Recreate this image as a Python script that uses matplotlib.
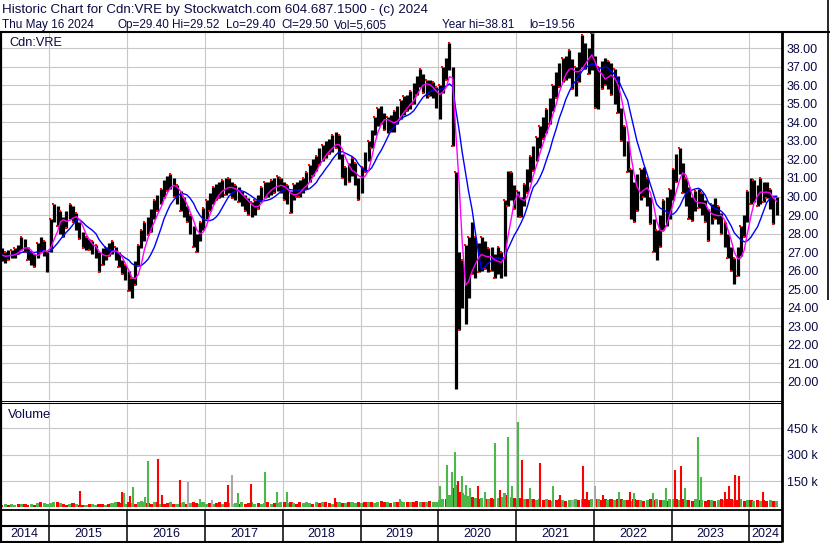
import numpy as np
import pandas as pd
import matplotlib
matplotlib.use("Agg")
import matplotlib.pyplot as plt
import matplotlib.dates as mdates

plt.rcParams['font.family'] = ['Liberation Sans', 'DejaVu Sans']

# --- half-month price bars (low / high) ---
lo_2014 = [26.5, 26.4, 26.6, 26.7, 26.7, 26.9, 27.1, 27.0, 26.6, 26.3, 26.2, 26.7, 27.0, 26.8, 25.9]
hi_2014 = [27.2, 27.0, 27.1, 27.1, 27.2, 27.4, 27.8, 27.7, 27.3, 27.0, 26.9, 27.5, 27.8, 27.6, 27.0]
lo_2015 = [27.0, 28.6, 28.4, 28.0, 27.8, 28.3, 28.8, 28.6, 28.2, 27.7, 27.2, 27.1,
           27.1, 26.9, 26.7, 25.9, 26.3, 26.6, 26.8, 26.9, 26.6, 26.2, 25.8, 25.5]
hi_2015 = [28.8, 29.6, 29.5, 29.2, 28.9, 29.2, 29.6, 29.5, 29.1, 28.6, 28.1, 27.8,
           27.7, 27.6, 27.4, 27.0, 27.2, 27.3, 27.5, 27.6, 27.3, 27.0, 26.6, 26.3]
lo_2016 = [24.9, 24.5, 25.2, 26.3, 27.2, 27.6, 27.9, 28.1, 28.8, 29.2, 29.6, 29.9,
           30.3, 30.4, 30.0, 29.6, 29.2, 28.9, 28.6, 28.0, 27.3, 27.0, 27.6, 28.2]
hi_2016 = [26.0, 25.6, 26.5, 27.4, 28.2, 28.6, 28.9, 29.3, 29.8, 30.1, 30.4, 30.9,
           31.1, 31.2, 31.0, 30.6, 30.3, 30.0, 29.5, 29.0, 28.4, 28.0, 28.6, 29.4]
lo_2017 = [28.8, 29.2, 29.6, 29.8, 29.9, 30.0, 30.1, 30.2, 29.9, 29.8, 29.7, 29.5,
           29.2, 29.0, 28.9, 29.0, 29.3, 29.7, 29.9, 30.0, 30.1, 30.2, 30.3, 30.2]
hi_2017 = [29.8, 30.2, 30.5, 30.7, 30.8, 30.9, 31.0, 31.0, 30.8, 30.6, 30.5, 30.3,
           30.1, 29.9, 29.7, 29.8, 30.1, 30.5, 30.8, 30.8, 30.9, 31.0, 31.1, 31.0]
lo_2018 = [29.8, 29.6, 29.1, 29.8, 30.0, 30.0, 30.2, 30.4, 30.8, 31.1, 31.4, 31.7,
           31.9, 32.1, 32.3, 32.4, 32.6, 32.0, 31.0, 30.6, 30.8, 31.1, 30.6, 29.8]
hi_2018 = [30.8, 30.6, 30.3, 30.7, 30.8, 30.9, 31.0, 31.3, 31.7, 32.0, 32.2, 32.6,
           32.8, 33.0, 33.1, 33.3, 33.5, 33.3, 32.3, 31.6, 31.8, 32.1, 31.8, 31.0]
lo_2019 = [30.2, 31.3, 31.9, 32.6, 33.3, 33.8, 33.9, 33.6, 33.4, 33.5, 33.5, 33.9,
           34.2, 34.4, 34.6, 34.7, 35.0, 35.5, 35.9, 35.6, 35.3, 35.4, 35.3, 34.8]
hi_2019 = [31.6, 32.4, 33.0, 33.6, 34.3, 34.8, 34.9, 34.5, 34.3, 34.4, 34.6, 34.9,
           35.2, 35.4, 35.5, 35.7, 36.1, 36.5, 36.9, 36.6, 36.3, 36.3, 36.2, 35.9]
lo_2020 = [34.2, 35.6, 36.3, 36.8, 32.7, 19.6, 22.8, 24.0, 23.1, 24.5, 25.8, 25.6,
           25.9, 26.0, 26.1, 25.9, 26.0, 25.6, 25.8, 25.6, 25.7, 29.5, 29.8, 29.3]
hi_2020 = [36.0, 37.0, 37.5, 38.3, 37.0, 31.3, 27.0, 26.6, 27.4, 27.8, 28.6, 27.8,
           27.5, 27.8, 27.6, 27.2, 27.3, 26.9, 27.3, 27.0, 29.8, 31.4, 31.3, 30.6]
lo_2021 = [28.9, 28.9, 29.5, 30.2, 30.8, 31.4, 31.9, 32.6, 33.1, 33.4, 33.9, 34.6,
           35.3, 35.9, 36.2, 36.3, 36.4, 35.8, 35.4, 36.2, 37.0, 36.9, 36.6, 36.8]
hi_2021 = [30.3, 30.0, 30.7, 31.5, 32.2, 32.7, 33.2, 33.8, 34.3, 34.7, 35.3, 36.0,
           36.7, 37.2, 37.5, 37.6, 37.9, 37.4, 37.0, 37.8, 38.7, 38.3, 38.0, 38.8]
lo_2022 = [34.8, 34.7, 35.8, 36.0, 35.8, 35.5, 35.0, 34.5, 33.0, 32.2, 31.3, 28.8,
           28.6, 29.2, 29.8, 30.0, 29.5, 28.5, 27.0, 26.6, 27.3, 28.2, 28.4, 28.8]
hi_2022 = [37.6, 37.0, 37.3, 37.5, 37.3, 37.2, 36.9, 36.5, 34.8, 33.8, 33.0, 31.5,
           30.8, 31.2, 31.5, 31.6, 31.0, 30.0, 28.8, 28.2, 29.0, 29.8, 30.0, 30.4]
lo_2023 = [29.8, 30.8, 31.2, 30.2, 29.5, 28.8, 28.7, 29.2, 29.4, 29.0, 28.6, 27.6,
           28.5, 28.8, 28.5, 28.0, 27.3, 26.7, 26.0, 25.3, 25.7, 26.8, 27.8, 28.6]
hi_2023 = [31.5, 32.3, 32.6, 31.8, 31.0, 30.5, 30.0, 30.3, 30.4, 30.2, 29.8, 29.3,
           29.6, 29.9, 29.5, 29.1, 28.6, 28.0, 27.3, 26.7, 27.3, 28.4, 29.0, 30.3]
lo_2024 = [29.6, 29.7, 29.5, 29.6, 29.7, 29.9, 29.3, 28.5, 29.0]
hi_2024 = [31.0, 30.9, 30.6, 31.0, 30.8, 30.8, 30.4, 30.0, 30.0]

# --- half-month volume (thousands) and bar colour (g up / r down / s unchanged) ---
vol_2014 = [14, 18, 12, 20, 15, 17, 22, 18, 15, 21, 16, 25, 30, 24, 19]
vol_2015 = [26, 30, 28, 24, 18, 16, 20, 24, 18, 15, 14, 16, 20, 18, 15, 22, 17, 16, 19, 24, 28, 30, 26, 20]
vol_2016 = [30, 26, 22, 28, 35, 30, 24, 20, 28, 32, 22, 20, 26, 30, 22, 18, 24, 28, 20, 26, 30, 24, 20, 28]
vol_2017 = [22, 26, 20, 24, 28, 22, 30, 24, 20, 26, 22, 28, 20, 24, 30, 22, 26, 20, 24, 28, 22, 26, 24, 28]
vol_2018 = [28, 24, 30, 26, 22, 28, 24, 30, 26, 22, 28, 24, 30, 32, 26, 22, 28, 30, 24, 26, 28, 32, 26, 30]
vol_2019 = [26, 30, 28, 32, 26, 30, 34, 28, 30, 26, 32, 28, 34, 30, 28, 32, 30, 34, 28, 32, 30, 36, 32, 30]
vol_2020 = [40, 45, 50, 70, 110, 130, 90, 80, 70, 65, 60, 55, 50, 55, 50, 48, 52, 50, 55, 60, 80, 70, 60, 55]
vol_2021 = [50, 55, 45, 50, 48, 45, 42, 45, 40, 45, 42, 38, 42, 45, 40, 38, 42, 40, 45, 42, 48, 45, 40, 45]
vol_2022 = [48, 45, 42, 45, 40, 45, 42, 48, 45, 40, 42, 38, 45, 40, 42, 38, 40, 45, 42, 48, 40, 42, 38, 45]
vol_2023 = [45, 48, 42, 45, 40, 42, 38, 45, 40, 42, 38, 40, 42, 38, 40, 45, 42, 48, 45, 42, 40, 45, 38, 40]
vol_2024 = [40, 38, 42, 36, 40, 38, 42, 36, 38]
vcol = ("rgrggrgrrgrgrgg" "ggrgrrgrgrrgrggrrgrggrrg" "rgrgggrrgrgrrgrgsgrgrrgg"
        "grgrrgrgsgrgrrggrggrgrgg" "rgrgrrgggrgrgrrgrgrgrggr" "grgrggrrgrgrggrgrrgrgrgg"
        "ggrgrgrgggrgrgrgrrgggrgr" "grgrgrggrgrgrrgrgsgrgrrg" "rgrrgrgrrgrgrrgrgrrgrgrg"
        "grgrgrrgrgrrgrgrgrrgrgrg" "rgrgrrgrg")

# single-day volume spikes
spike_dates = ["2015-05-24", "2015-12-08", "2015-12-18", "2016-01-15", "2016-01-29", "2016-03-25",
               "2016-04-08", "2016-05-25", "2016-06-13", "2016-09-06", "2016-10-13", "2016-12-09",
               "2017-02-03", "2017-04-19", "2017-05-08", "2017-06-05", "2017-08-05", "2017-10-10",
               "2017-12-05", "2018-01-21", "2018-09-03", "2019-07-04",
               "2020-01-08", "2020-02-10", "2020-03-04", "2020-03-18", "2020-04-02", "2020-04-20",
               "2020-05-09", "2020-05-28", "2020-07-05", "2020-08-07", "2020-09-23", "2020-10-16",
               "2020-11-23", "2020-12-12", "2021-01-09", "2021-01-28", "2021-03-06", "2021-04-22",
               "2021-06-23", "2021-07-25", "2021-11-10", "2021-11-29", "2022-01-05", "2022-02-12",
               "2022-04-29", "2022-06-19", "2022-07-08", "2022-10-05", "2022-12-05", "2023-01-17",
               "2023-02-14", "2023-03-05", "2023-05-05", "2023-05-19", "2023-09-08", "2023-09-27",
               "2023-10-25", "2023-11-13", "2024-03-05"]
spike_vol = [95, 90, 80, 62, 114, 60, 264, 274, 72, 153, 143, 50,
             40, 130, 182, 84, 135, 199, 88, 88, 55, 45,
             120, 240, 200, 315, 150, 180, 130, 110, 120, 90, 366, 100,
             400, 120, 488, 270, 110, 250,
             124, 72, 235, 86, 120, 70, 86, 86, 80, 80, 108, 210,
             235, 108, 401, 172, 88, 124, 182, 177, 86]
spike_col = "rrgrgggrrrsgsrsgrgggrg" "ggggrgggrggrgggrgrgr" "rrsrgrgggrrgggrrrrrgr"

# header, second line: (x pixel, text)
header_items = [(2, "Thu May 16 2024"), (117, "Op=29.40"), (172, "Hi=29.52"),
                (226, "Lo=29.40"), (281.5, "Cl=29.50"), (334, "Vol=5,605"),
                (442, "Year hi=38.81"), (529, "lo=19.56")]

lo = np.array(lo_2014 + lo_2015 + lo_2016 + lo_2017 + lo_2018 + lo_2019 +
              lo_2020 + lo_2021 + lo_2022 + lo_2023 + lo_2024)
hi = np.array(hi_2014 + hi_2015 + hi_2016 + hi_2017 + hi_2018 + hi_2019 +
              hi_2020 + hi_2021 + hi_2022 + hi_2023 + hi_2024)
vol = np.array(vol_2014 + vol_2015 + vol_2016 + vol_2017 + vol_2018 + vol_2019 +
               vol_2020 + vol_2021 + vol_2022 + vol_2023 + vol_2024)

periods = pd.date_range("2014-05-15", periods=len(lo), freq="SMS")
xc = mdates.date2num((periods + pd.Timedelta(days=7)).to_pydatetime())
xs = mdates.date2num(pd.to_datetime(spike_dates).to_pydatetime())

mid = pd.Series((lo + hi) / 2)
ma_fast = mid.rolling(4, min_periods=1).mean()
ma_slow = mid.rolling(9, min_periods=1).mean()

# close tick: top of bar on up periods, bottom on down periods
up = np.array([c == "g" for c in vcol])
close_tick = np.where(up, hi, lo)

colmap = {"g": "#4cb84c", "r": "#ff0000", "s": "#a8a8a8"}
navy = "#0a0a46"
grid_c = "#c8c8c8"

years = list(range(2015, 2025))
ybound = mdates.date2num([pd.Timestamp(f"{y}-01-01").to_pydatetime() for y in years])
x0 = mdates.date2num(pd.Timestamp("2014-05-14").to_pydatetime())
x1 = mdates.date2num(pd.Timestamp("2024-06-02").to_pydatetime())

W, H = 830, 543
fig = plt.figure(figsize=(W / 100, H / 100), dpi=100)
fig.patch.set_facecolor("white")


def px_rect(a, b, c, d):
    return [a / W, 1 - d / H, (c - a) / W, (d - b) / H]


ax_p = fig.add_axes(px_rect(0, 31, 782, 400))
ax_v = fig.add_axes(px_rect(0, 402, 782, 510))
ax_r = fig.add_axes(px_rect(0, 510, 782, 541))

for ax in (ax_p, ax_v, ax_r):
    ax.set_xlim(x0, x1)
    for s in ax.spines.values():
        s.set_visible(False)
    ax.tick_params(axis="x", length=0, labelbottom=False)

# --- price panel ---
ax_p.set_ylim(19.02, 38.93)
ax_p.set_xticks(ybound)
ax_p.set_yticks(range(20, 39))
ax_p.set_yticklabels([f"{v:.2f}" for v in range(20, 39)])
ax_p.yaxis.tick_right()
ax_p.tick_params(axis="y", length=0, pad=3.6, labelsize=9, labelcolor=navy)
ax_p.grid(True, color=grid_c, lw=0.8)
ax_p.set_axisbelow(True)
ax_p.vlines(xc, lo, hi, color="black", lw=2.3, zorder=2)
ax_p.plot(xc - 2, close_tick, ls="none", marker="s", ms=1.6, mew=0, color="#ff0000", zorder=2.5)
ax_p.plot(xc, ma_slow, color="#0000ff", lw=1.0, zorder=3)
ax_p.plot(xc, ma_fast, color="#ff00ff", lw=1.0, zorder=4)

# --- volume panel ---
ax_v.set_ylim(-15, 600)
ax_v.set_xticks(ybound)
ax_v.set_yticks([150, 300, 450])
ax_v.set_yticklabels(["150 k", "300 k", "450 k"])
ax_v.yaxis.tick_right()
ax_v.tick_params(axis="y", length=0, pad=3.6, labelsize=9, labelcolor=navy)
ax_v.grid(True, color=grid_c, lw=0.8)
ax_v.set_axisbelow(True)
ax_v.bar(xc, vol, width=15, color=[colmap[c] for c in vcol], lw=0, zorder=2)
ax_v.vlines(xs, 0, spike_vol, colors=[colmap[c] for c in spike_col], lw=1.5, zorder=3)

# --- year rows ---
ax_r.set_ylim(0, 1)
ax_r.set_yticks([])
ax_r.vlines(ybound, 0, 1, color="black", lw=1.1)
ax_r.axhline(0.47, color="black", lw=1.5)
edges = [x0] + list(ybound) + [x1]
for i, y in enumerate(range(2014, 2025)):
    ax_r.text((edges[i] + edges[i + 1]) / 2, 0.22, str(y), ha="center", va="center",
              fontsize=9, color=navy)

# --- frame and header ---
ov = fig.add_axes([0, 0, 1, 1])
ov.set_xlim(0, W)
ov.set_ylim(H, 0)
ov.axis("off")
k = dict(color="black", solid_capstyle="butt")
ov.plot([0, W], [31.5, 31.5], lw=1.5, **k)
ov.plot([1, 1], [31, 542], lw=1.6, **k)
ov.plot([782, 782], [31, 542], lw=2.0, **k)
ov.plot([827.5, 827.5], [0, 300], lw=1.2, **k)
ov.plot([0, 782], [400.5, 400.5], lw=0.75, **k)
ov.plot([0, 782], [402.7, 402.7], lw=0.75, **k)
ov.plot([0, 782], [510, 510], lw=1.3, **k)
ov.plot([0, 782], [541.5, 541.5], lw=1.5, **k)

ov.text(2, 12.7, "Historic Chart for Cdn:VRE by Stockwatch.com 604.687.1500 - (c) 2024",
        fontsize=9.6, color=navy, va="baseline")
for xp, s in header_items:
    ov.text(xp, 28.4, s, fontsize=8.5, color=navy, va="baseline")
ov.text(9, 46, "Cdn:VRE", fontsize=9.2, color=navy, va="baseline")
ov.text(8, 417.5, "Volume", fontsize=9.4, color=navy, va="baseline")

fig.savefig("out.png", dpi=100)
